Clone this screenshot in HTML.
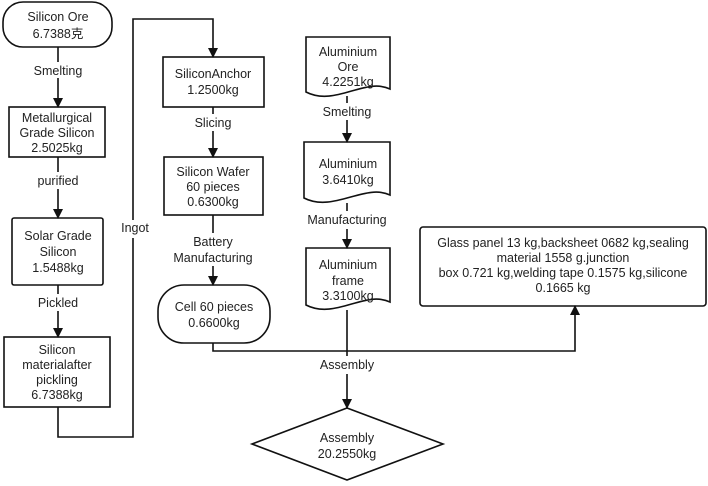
<!DOCTYPE html>
<html><head><meta charset="utf-8"><style>
html,body{margin:0;padding:0;background:#fff;}
svg{display:block;}
text{font-family:"Liberation Sans","Noto Sans CJK SC",sans-serif;font-size:12.5px;fill:#222;text-anchor:middle;}
</style></head><body>
<svg width="708" height="486" viewBox="0 0 708 486" xmlns="http://www.w3.org/2000/svg">
<defs><marker id="a" markerWidth="10" markerHeight="10" refX="9" refY="5" orient="auto" markerUnits="userSpaceOnUse"><path d="M0,0 L10,5 L0,10 z" fill="#111"/></marker></defs>
<g fill="none" stroke="#111" stroke-width="1.6">
<rect x="3" y="2" width="109" height="45" rx="20"/>
<rect x="9" y="107" width="96" height="50"/>
<rect x="12" y="218" width="91" height="67" rx="2"/>
<rect x="4" y="337" width="106" height="70"/>
<rect x="163" y="57" width="101" height="50"/>
<rect x="164" y="157" width="99" height="58"/>
<rect x="158" y="285" width="112" height="58" rx="26"/>
<rect x="420" y="227" width="286" height="79" rx="3"/>
<path d="M306,37 H390 V89 C365,77 335,107 306,92 Z"/>
<path d="M304,142 H390 V195 C365,183 333,213 304,198 Z"/>
<path d="M306,248 H390 V302 C365,290 335,320 306,305 Z"/>
<path d="M347,408 L443,444 L347,480 L252,444 Z"/>
<path d="M58,47 V62 M58,78 V107" marker-end="url(#a)"/>
<path d="M58,157 V172 M58,189 V218" marker-end="url(#a)"/>
<path d="M58,285 V294 M58,311 V337" marker-end="url(#a)"/>
<path d="M58,407 V437 H133 V238 M133,220 V19 H213 V57" marker-end="url(#a)"/>
<path d="M213,107 V114 M213,131 V157" marker-end="url(#a)"/>
<path d="M213,215 V233 M213,266 V285" marker-end="url(#a)"/>
<path d="M347,96 V103 M347,120 V142" marker-end="url(#a)"/>
<path d="M347,203 V211 M347,229 V248" marker-end="url(#a)"/>
<path d="M213,343 V351 H575 V306" marker-end="url(#a)"/>
<path d="M347,310 V356 M347,374 V408" marker-end="url(#a)"/>
</g>
<g>
<text x="58" y="21">Silicon Ore</text><text x="58" y="38">6.7388克</text>
<text x="58" y="75">Smelting</text>
<text x="57" y="122">Metallurgical</text><text x="57" y="137">Grade Silicon</text><text x="57" y="152">2.5025kg</text>
<text x="58" y="185">purified</text>
<text x="58" y="240">Solar Grade</text><text x="58" y="256">Silicon</text><text x="58" y="272">1.5488kg</text>
<text x="58" y="307">Pickled</text>
<text x="57" y="354">Silicon</text><text x="57" y="369">materialafter</text><text x="57" y="384">pickling</text><text x="57" y="399">6.7388kg</text>
<text x="135" y="232">Ingot</text>
<text x="213" y="78">SiliconAnchor</text><text x="213" y="94">1.2500kg</text>
<text x="213" y="127">Slicing</text>
<text x="213" y="176">Silicon Wafer</text><text x="213" y="191">60 pieces</text><text x="213" y="206">0.6300kg</text>
<text x="213" y="246">Battery</text><text x="213" y="262">Manufacturing</text>
<text x="214" y="311">Cell 60 pieces</text><text x="214" y="327">0.6600kg</text>
<text x="348" y="56">Aluminium</text><text x="348" y="71">Ore</text><text x="348" y="86">4.2251kg</text>
<text x="347" y="116">Smelting</text>
<text x="348" y="168">Aluminium</text><text x="348" y="184">3.6410kg</text>
<text x="347" y="224">Manufacturing</text>
<text x="348" y="269">Aluminium</text><text x="348" y="285">frame</text><text x="348" y="300">3.3100kg</text>
<text x="563" y="247">Glass panel 13 kg,backsheet 0682 kg,sealing</text>
<text x="563" y="262">material 1558 g.junction</text>
<text x="563" y="277">box 0.721 kg,welding tape 0.1575 kg,silicone</text>
<text x="563" y="292">0.1665 kg</text>
<text x="347" y="369">Assembly</text>
<text x="347" y="442">Assembly</text><text x="347" y="458">20.2550kg</text>
</g>
</svg>
</body></html>
